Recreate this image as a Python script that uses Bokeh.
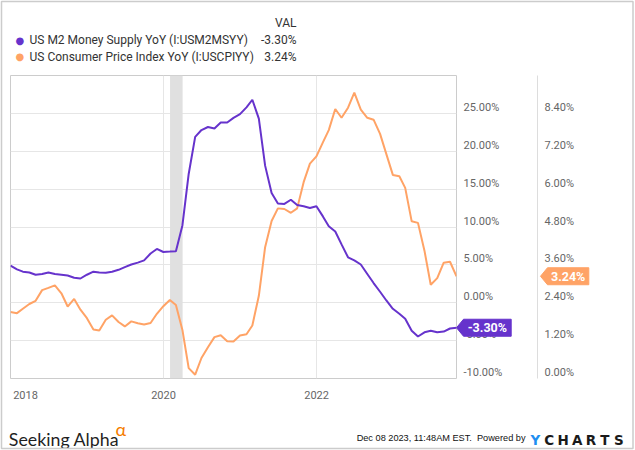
import pandas as pd
from bokeh.plotting import figure
from bokeh.core.properties import value
from bokeh.models import (Range1d, LinearAxis, FixedTicker, DatetimeTickFormatter,
                          BoxAnnotation, CustomJSTickFormatter)
from bokeh.embed import file_html
from bokeh.resources import INLINE

# ---------------- data ----------------
dates = pd.date_range("2017-12-01", periods=71, freq="MS") + pd.offsets.MonthEnd(0)

m2_yoy = [4.9,                                                            # Dec 2017
          4.4, 4.1, 4.0, 3.7, 3.8, 4.0, 3.8, 3.7, 3.6, 3.3, 3.2, 3.7,      # 2018
          4.1, 4.0, 3.95, 4.1, 4.35, 4.7, 5.05, 5.3, 5.6, 6.5, 7.1, 6.7,   # 2019
          6.75, 6.8, 10.2, 17.0, 21.9, 22.8, 23.2, 23.0, 23.8, 23.8, 24.4, 24.9,  # 2020
          25.8, 26.8, 24.3, 18.1, 14.5, 13.1, 13.05, 13.6, 12.9, 12.75, 12.5, 12.75,  # 2021
          11.4, 10.1, 9.4, 7.7, 6.0, 5.6, 5.05, 3.8, 2.6, 1.45, 0.3, -0.8,  # 2022
          -1.46, -2.1, -3.7, -4.46, -3.9, -3.7, -3.9, -3.8, -3.4, -3.30]   # 2023

cpi_yoy = [2.11,
           2.07, 2.21, 2.36, 2.46, 2.80, 2.87, 2.95, 2.70, 2.28, 2.52, 2.18, 1.91,
           1.55, 1.52, 1.86, 2.00, 1.79, 1.65, 1.81, 1.75, 1.71, 1.76, 2.05, 2.29,
           2.49, 2.33, 1.54, 0.33, 0.12, 0.65, 0.99, 1.31, 1.37, 1.18, 1.17, 1.36,
           1.40, 1.68, 2.62, 4.16, 4.99, 5.39, 5.37, 5.25, 5.39, 6.22, 6.81, 7.04,
           7.48, 7.87, 8.54, 8.26, 8.58, 9.06, 8.52, 8.26, 8.20, 7.75, 7.11, 6.45,
           6.41, 6.04, 4.98, 4.93, 4.05, 2.97, 3.18, 3.67, 3.70, 3.24]

series_names = ["US M2 Money Supply YoY (I:USM2MSYY)",
                "US Consumer Price Index YoY (I:USCPIYY)"]
m2_range = (-10, 30)
cpi_range = (0, 9.6)
m2_ticks = [-10, -5, 0, 5, 10, 15, 20, 25]
cpi_ticks = [0.0, 1.2, 2.4, 3.6, 4.8, 6.0, 7.2, 8.4]
year_grid = ["2020-01-01", "2022-01-01"]
recession = ("2020-02-01", "2020-04-01")
stamp = "Dec 08 2023, 11:48AM EST.\u00a0 Powered by"

# ---------------- style ----------------
M2_COLOR = "#6633cc"
CPI_COLOR = "#ffa366"
GRID = "#e6e6e6"
AXIS_TXT = "#666666"
W, H = 635, 450
FX0, FY0 = 10, 378          # frame left / bottom (page px)
FRAME_W, FRAME_H = 446, 303
LABEL_LIFT = 6              # tick labels sit this many px above their grid line


def ms(s):
    return (pd.Timestamp(s) - pd.Timestamp("1970-01-01")) / pd.Timedelta(milliseconds=1)


p = figure(width=W, height=H, x_axis_type="datetime", y_axis_location="right",
           x_range=Range1d(dates[0], dates[-1]), y_range=Range1d(*m2_range),
           output_backend="svg", toolbar_location=None,
           min_border_left=FX0, min_border_right=W - FX0 - FRAME_W,
           min_border_top=FY0 - FRAME_H, min_border_bottom=H - FY0)
p.extra_y_ranges = {"cpi": Range1d(*cpi_range),
                    "px": Range1d(FY0, FY0 - FRAME_H)}   # page-pixel helper scale
p.extra_x_ranges = {"px": Range1d(FX0, FX0 + FRAME_W)}
p.background_fill_color = "white"
p.border_fill_color = "white"
p.outline_line_color = "#cccccc"

# grids
p.xgrid.ticker = FixedTicker(ticks=[ms(d) for d in year_grid])
p.ygrid.ticker = FixedTicker(ticks=m2_ticks[1:])
p.xgrid.grid_line_color = GRID
p.ygrid.grid_line_color = GRID

# recession shading
p.add_layout(BoxAnnotation(left=ms(recession[0]), right=ms(recession[1]),
                           fill_color="#e0e0e0", fill_alpha=1, line_color=None,
                           level="underlay"))

# lines
p.line(dates, cpi_yoy, y_range_name="cpi", line_color=CPI_COLOR, line_width=2)
p.line(dates, m2_yoy, line_color=M2_COLOR, line_width=2)

# x axis
span_ms = ms(dates[-1]) - ms(dates[0])
first_lbl = ms(dates[0]) + 15 / FRAME_W * span_ms
xa = p.xaxis[0]
xa.ticker = FixedTicker(ticks=[first_lbl, ms("2020-01-01"), ms("2022-01-01")])
xa.formatter = DatetimeTickFormatter(years="%Y", months="%Y", days="%Y", hours="%Y",
                                     minutes="%Y", seconds="%Y", milliseconds="%Y",
                                     microseconds="%Y", minsec="%Y", hourmin="%Y")
xa.axis_line_color = None
xa.major_tick_line_color = None
xa.minor_tick_line_color = None
xa.major_label_standoff = 6
xa.major_label_text_font = "Roboto"
xa.major_label_text_font_size = "11px"
xa.major_label_text_color = AXIS_TXT

fmt_code = """
const v = Math.round((tick - off) * 100) / 100;
return (v === 0 ? 0 : v).toFixed(2) + '%';
"""

m2_off = LABEL_LIFT * (m2_range[1] - m2_range[0]) / FRAME_H
cpi_off = LABEL_LIFT * (cpi_range[1] - cpi_range[0]) / FRAME_H


def style_y(ax, ticks, off):
    ax.ticker = FixedTicker(ticks=[t + off for t in ticks])
    ax.formatter = CustomJSTickFormatter(args=dict(off=off), code=fmt_code)
    ax.major_tick_line_color = None
    ax.minor_tick_line_color = None
    ax.major_tick_out = 0
    ax.major_label_standoff = 7
    ax.major_label_text_font = "Roboto"
    ax.major_label_text_font_size = "11px"
    ax.major_label_text_color = AXIS_TXT


ya = p.yaxis[0]
style_y(ya, m2_ticks, m2_off)
ya.axis_line_color = None
ya.axis_label = "."
ya.axis_label_text_color = "white"
ya.axis_label_text_font_size = "10px"
ya.axis_label_standoff = 21

ya2 = LinearAxis(y_range_name="cpi")
style_y(ya2, cpi_ticks, cpi_off)
ya2.axis_line_color = "#dddddd"
p.add_layout(ya2, "right")


# ---------------- texts outside the frame (page-pixel scale, overlay level) ----------------
def txt(texts, xs, ys, size, color, align="left", baseline="middle",
        font="Roboto", style="normal", yr="px"):
    p.text(x=xs, y=ys, text=texts, x_range_name="px", y_range_name=yr,
           text_font=value(font), text_font_size=value(f"{size}px"),
           text_color=color, text_align=align, text_baseline=baseline,
           text_font_style=value(style), level="overlay")


# legend
last_vals = [m2_yoy[-1], cpi_yoy[-1]]
row_y = [39.5, 56.0]
txt(["VAL"], [296], [22.7], 12, "#333333", align="right")
for yy, col in zip(row_y, [M2_COLOR, CPI_COLOR]):
    txt(["\u25cf"], [19.3], [yy], 10, col, align="center", font="DejaVu Sans")
txt(series_names, [29, 29], row_y, 12, "#333333")
txt([f"{v:.2f}%" for v in last_vals], [296, 296], row_y, 12, "#333333", align="right")

# footer
txt(["Seeking Alpha"], [8.3], [438.3], 17.8, "#1f1f1f", baseline="alphabetic", font="Lato")
txt(["\u03b1"], [115], [428.5], 18, "#f57c00", baseline="alphabetic", font="Lato")
txt([stamp], [525], [437.8], 9.2, "#111111", align="right", baseline="alphabetic",
    font="Liberation Sans")
logo = list("YCHARTS")
for k, ch in enumerate(logo):
    txt([ch], [534.9 + 13.9 * k], [439.5], 13.5, "#1e8ef0" if k == 0 else "#1a1a1a",
        align="center", baseline="alphabetic", font="DejaVu Sans", style="bold")

# outer frame of the picture
p.quad(left=[1], right=[632.5], top=[1], bottom=[448], x_range_name="px",
       y_range_name="px", fill_color=None, line_color="#cccccc", line_width=1.5,
       level="overlay")


# value badges at the axes
def badge(val, tip, body, right, color, rng, units_per_px):
    h = 8.5 * units_per_px
    p.patch(x=[tip, body, right, right, body], y=[val, val + h, val + h, val - h, val - h],
            x_range_name="px", y_range_name=rng, fill_color=color, line_color=color,
            level="overlay")
    txt([f"{val:.2f}%"], [(body + right) / 2], [val], 12.5, "white", align="center",
        style="bold", yr=rng)


badge(m2_yoy[-1], FX0 + FRAME_W, 463, 510.7, M2_COLOR, "default",
      (m2_range[1] - m2_range[0]) / FRAME_H)
badge(cpi_yoy[-1], 540, 547, 588.3, CPI_COLOR, "cpi",
      (cpi_range[1] - cpi_range[0]) / FRAME_H)

open("out.html", "w").write(file_html(p, INLINE))
